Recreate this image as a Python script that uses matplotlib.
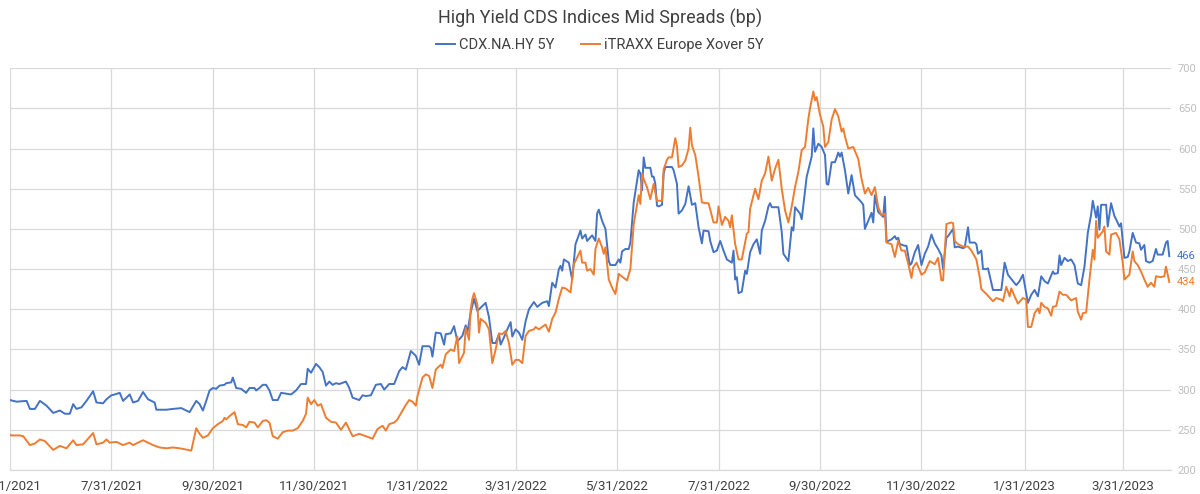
import matplotlib
matplotlib.use("Agg")
import matplotlib.pyplot as plt
import pandas as pd
from matplotlib.ticker import FuncFormatter, FixedLocator
import matplotlib.dates as mdates

# CDX.NA.HY 5Y mid spread (bp)
cdx_dates = [
    "2021-05-31", "2021-06-04", "2021-06-10", "2021-06-12", "2021-06-15", "2021-06-18", "2021-06-22", "2021-06-26",
    "2021-06-30", "2021-07-03", "2021-07-06", "2021-07-08", "2021-07-10", "2021-07-13", "2021-07-16", "2021-07-20",
    "2021-07-22", "2021-07-26", "2021-07-28", "2021-07-31", "2021-08-02", "2021-08-05", "2021-08-07", "2021-08-11",
    "2021-08-13", "2021-08-16", "2021-08-19", "2021-08-22", "2021-08-26", "2021-08-27", "2021-09-02", "2021-09-06",
    "2021-09-11", "2021-09-16", "2021-09-20", "2021-09-22", "2021-09-24", "2021-09-26", "2021-09-28", "2021-09-30",
    "2021-10-02", "2021-10-04", "2021-10-07", "2021-10-08", "2021-10-11", "2021-10-12", "2021-10-14", "2021-10-17",
    "2021-10-20", "2021-10-22", "2021-10-25", "2021-10-26", "2021-10-28", "2021-10-30", "2021-11-01", "2021-11-03",
    "2021-11-05", "2021-11-08", "2021-11-10", "2021-11-13", "2021-11-16", "2021-11-19", "2021-11-22", "2021-11-25",
    "2021-11-26", "2021-11-28", "2021-12-01", "2021-12-03", "2021-12-05", "2021-12-07", "2021-12-09", "2021-12-11",
    "2021-12-13", "2021-12-15", "2021-12-19", "2021-12-21", "2021-12-23", "2021-12-27", "2021-12-29", "2021-12-31",
    "2022-01-03", "2022-01-06", "2022-01-09", "2022-01-11", "2022-01-14", "2022-01-17", "2022-01-20", "2022-01-22",
    "2022-01-24", "2022-01-27", "2022-01-30", "2022-02-01", "2022-02-03", "2022-02-07", "2022-02-08", "2022-02-09",
    "2022-02-11", "2022-02-14", "2022-02-16", "2022-02-17", "2022-02-20", "2022-02-22", "2022-02-24", "2022-02-27",
    "2022-03-01", "2022-03-02", "2022-03-04", "2022-03-06", "2022-03-08", "2022-03-10", "2022-03-13", "2022-03-15",
    "2022-03-17", "2022-03-19", "2022-03-21", "2022-03-22", "2022-03-24", "2022-03-26", "2022-03-28", "2022-03-29",
    "2022-03-31", "2022-04-02", "2022-04-04", "2022-04-06", "2022-04-08", "2022-04-11", "2022-04-13", "2022-04-16",
    "2022-04-19", "2022-04-20", "2022-04-22", "2022-04-24", "2022-04-26", "2022-04-27", "2022-04-28", "2022-04-29",
    "2022-05-02", "2022-05-04", "2022-05-06", "2022-05-09", "2022-05-10", "2022-05-12", "2022-05-13", "2022-05-16",
    "2022-05-18", "2022-05-19", "2022-05-20", "2022-05-22", "2022-05-24", "2022-05-26", "2022-05-27", "2022-05-30",
    "2022-06-01", "2022-06-02", "2022-06-03", "2022-06-05", "2022-06-07", "2022-06-08", "2022-06-10", "2022-06-12",
    "2022-06-13", "2022-06-14", "2022-06-15", "2022-06-16", "2022-06-17", "2022-06-20", "2022-06-21", "2022-06-22",
    "2022-06-23", "2022-06-24", "2022-06-25", "2022-06-27", "2022-06-28", "2022-06-29", "2022-07-03", "2022-07-04",
    "2022-07-06", "2022-07-07", "2022-07-09", "2022-07-11", "2022-07-13", "2022-07-15", "2022-07-17", "2022-07-19",
    "2022-07-21", "2022-07-22", "2022-07-25", "2022-07-26", "2022-07-28", "2022-07-30", "2022-08-01", "2022-08-03",
    "2022-08-05", "2022-08-08", "2022-08-09", "2022-08-10", "2022-08-11", "2022-08-12", "2022-08-14", "2022-08-16",
    "2022-08-17", "2022-08-19", "2022-08-21", "2022-08-23", "2022-08-25", "2022-08-26", "2022-08-28", "2022-08-30",
    "2022-08-31", "2022-09-01", "2022-09-05", "2022-09-07", "2022-09-08", "2022-09-11", "2022-09-13", "2022-09-14",
    "2022-09-15", "2022-09-18", "2022-09-19", "2022-09-22", "2022-09-25", "2022-09-26", "2022-09-27", "2022-09-29",
    "2022-10-01", "2022-10-03", "2022-10-04", "2022-10-05", "2022-10-07", "2022-10-09", "2022-10-11", "2022-10-12",
    "2022-10-13", "2022-10-15", "2022-10-17", "2022-10-19", "2022-10-21", "2022-10-25", "2022-10-26", "2022-10-27",
    "2022-10-29", "2022-10-31", "2022-11-01", "2022-11-02", "2022-11-04", "2022-11-07", "2022-11-08", "2022-11-09",
    "2022-11-12", "2022-11-14", "2022-11-15", "2022-11-16", "2022-11-17", "2022-11-20", "2022-11-21", "2022-11-23",
    "2022-11-24", "2022-11-26", "2022-11-28", "2022-11-30", "2022-12-02", "2022-12-04", "2022-12-06", "2022-12-08",
    "2022-12-10", "2022-12-12", "2022-12-13", "2022-12-15", "2022-12-16", "2022-12-19", "2022-12-20", "2022-12-22",
    "2022-12-25", "2022-12-26", "2022-12-28", "2022-12-29", "2023-01-01", "2023-01-02", "2023-01-03", "2023-01-05",
    "2023-01-06", "2023-01-08", "2023-01-09", "2023-01-12", "2023-01-17", "2023-01-19", "2023-01-21", "2023-01-24",
    "2023-01-26", "2023-01-28", "2023-01-30", "2023-02-01", "2023-02-02", "2023-02-04", "2023-02-06", "2023-02-08",
    "2023-02-10", "2023-02-12", "2023-02-14", "2023-02-17", "2023-02-18", "2023-02-20", "2023-02-21", "2023-02-22",
    "2023-02-24", "2023-02-26", "2023-02-28", "2023-03-02", "2023-03-04", "2023-03-06", "2023-03-08", "2023-03-10",
    "2023-03-12", "2023-03-13", "2023-03-15", "2023-03-16", "2023-03-17", "2023-03-18", "2023-03-21", "2023-03-22",
    "2023-03-24", "2023-03-26", "2023-03-27", "2023-03-29", "2023-03-30", "2023-04-01", "2023-04-03", "2023-04-04",
    "2023-04-06", "2023-04-08", "2023-04-10", "2023-04-11", "2023-04-13", "2023-04-14", "2023-04-16", "2023-04-18",
    "2023-04-20", "2023-04-21", "2023-04-24", "2023-04-26", "2023-04-27", "2023-04-28",
]
cdx_vals = [
    287, 285, 286, 276, 276, 286, 280, 271,
    274, 270, 270, 282, 276, 278, 286, 298,
    284, 283, 288, 293, 294, 296, 286, 294,
    284, 286, 297, 288, 284, 275, 275, 276,
    277, 272, 286, 282, 274, 286, 299, 302,
    301, 305, 306, 308, 309, 315, 302, 301,
    296, 302, 302, 299, 302, 306, 306, 299,
    287, 287, 296, 295, 294, 299, 307, 307,
    326, 321, 332, 328, 322, 305, 310, 306,
    308, 307, 310, 302, 290, 287, 293, 292,
    293, 306, 307, 300, 307, 307, 323, 328,
    325, 348, 342, 331, 354, 354, 352, 341,
    371, 370, 356, 369, 370, 379, 360, 367,
    380, 371, 396, 413, 398, 402, 408, 390,
    358, 358, 369, 356, 365, 375, 384, 366,
    375, 371, 362, 385, 400, 409, 403, 408,
    410, 404, 433, 427, 450, 454, 448, 462,
    458, 437, 481, 498, 488, 493, 485, 492,
    485, 519, 524, 510, 500, 460, 455, 455,
    462, 458, 472, 475, 475, 483, 533, 560,
    573, 569, 548, 589, 576, 576, 565, 565,
    556, 529, 528, 530, 569, 577, 577, 573,
    556, 519, 523, 531, 553, 530, 532, 502,
    482, 498, 497, 485, 471, 473, 485, 473,
    462, 458, 473, 437, 440, 420, 422, 448,
    444, 471, 481, 487, 469, 498, 510, 528,
    532, 527, 527, 496, 469, 460, 502, 498,
    527, 519, 512, 565, 590, 625, 596, 606,
    602, 592, 556, 555, 583, 583, 595, 590,
    595, 573, 544, 567, 542, 533, 530, 500,
    510, 520, 508, 542, 521, 515, 540, 484,
    487, 491, 487, 489, 481, 479, 479, 455,
    457, 471, 480, 455, 469, 478, 493, 482,
    475, 467, 450, 489, 491, 500, 477, 478,
    476, 477, 502, 483, 483, 481, 469, 473,
    450, 450, 451, 424, 424, 458, 443, 435,
    430, 435, 443, 420, 408, 418, 424, 416,
    441, 435, 432, 447, 444, 445, 467, 455,
    464, 460, 462, 455, 432, 430, 453, 495,
    518, 535, 514, 528, 499, 530, 530, 503,
    532, 516, 512, 503, 507, 464, 465, 472,
    495, 483, 482, 474, 480, 460, 458, 460,
    475, 468, 468, 483, 485, 466,
]

# iTRAXX Europe Xover 5Y mid spread (bp)
xover_dates = [
    "2021-05-31", "2021-06-01", "2021-06-06", "2021-06-08", "2021-06-12", "2021-06-15", "2021-06-18", "2021-06-21",
    "2021-06-26", "2021-06-30", "2021-07-04", "2021-07-06", "2021-07-08", "2021-07-10", "2021-07-14", "2021-07-20",
    "2021-07-22", "2021-07-26", "2021-07-28", "2021-07-30", "2021-08-03", "2021-08-07", "2021-08-11", "2021-08-13",
    "2021-08-19", "2021-08-25", "2021-08-29", "2021-09-02", "2021-09-06", "2021-09-10", "2021-09-15", "2021-09-17",
    "2021-09-20", "2021-09-22", "2021-09-24", "2021-09-27", "2021-09-30", "2021-10-03", "2021-10-06", "2021-10-07",
    "2021-10-08", "2021-10-10", "2021-10-13", "2021-10-15", "2021-10-18", "2021-10-20", "2021-10-22", "2021-10-25",
    "2021-10-27", "2021-10-30", "2021-11-01", "2021-11-03", "2021-11-05", "2021-11-08", "2021-11-11", "2021-11-14",
    "2021-11-17", "2021-11-20", "2021-11-23", "2021-11-25", "2021-11-26", "2021-11-28", "2021-11-30", "2021-12-02",
    "2021-12-04", "2021-12-07", "2021-12-10", "2021-12-13", "2021-12-16", "2021-12-19", "2021-12-23", "2021-12-27",
    "2021-12-31", "2022-01-04", "2022-01-07", "2022-01-10", "2022-01-12", "2022-01-14", "2022-01-17", "2022-01-19",
    "2022-01-22", "2022-01-24", "2022-01-26", "2022-01-28", "2022-01-30", "2022-01-31", "2022-02-03", "2022-02-05",
    "2022-02-07", "2022-02-09", "2022-02-11", "2022-02-14", "2022-02-15", "2022-02-17", "2022-02-20", "2022-02-22",
    "2022-02-24", "2022-02-25", "2022-02-28", "2022-03-01", "2022-03-03", "2022-03-04", "2022-03-05", "2022-03-06",
    "2022-03-08", "2022-03-09", "2022-03-10", "2022-03-13", "2022-03-15", "2022-03-17", "2022-03-19", "2022-03-21",
    "2022-03-23", "2022-03-25", "2022-03-27", "2022-03-29", "2022-03-31", "2022-04-02", "2022-04-04", "2022-04-06",
    "2022-04-08", "2022-04-11", "2022-04-12", "2022-04-14", "2022-04-18", "2022-04-20", "2022-04-22", "2022-04-24",
    "2022-04-26", "2022-04-28", "2022-04-30", "2022-05-03", "2022-05-05", "2022-05-09", "2022-05-10", "2022-05-12",
    "2022-05-13", "2022-05-15", "2022-05-17", "2022-05-18", "2022-05-20", "2022-05-22", "2022-05-23", "2022-05-24",
    "2022-05-26", "2022-05-28", "2022-05-30", "2022-06-01", "2022-06-04", "2022-06-06", "2022-06-08", "2022-06-10",
    "2022-06-13", "2022-06-14", "2022-06-15", "2022-06-16", "2022-06-18", "2022-06-20", "2022-06-22", "2022-06-24",
    "2022-06-27", "2022-06-28", "2022-06-30", "2022-07-01", "2022-07-03", "2022-07-05", "2022-07-06", "2022-07-07",
    "2022-07-09", "2022-07-11", "2022-07-13", "2022-07-14", "2022-07-15", "2022-07-17", "2022-07-19", "2022-07-21",
    "2022-07-23", "2022-07-25", "2022-07-28", "2022-07-30", "2022-07-31", "2022-08-02", "2022-08-04", "2022-08-06",
    "2022-08-07", "2022-08-08", "2022-08-10", "2022-08-12", "2022-08-14", "2022-08-17", "2022-08-18", "2022-08-19",
    "2022-08-22", "2022-08-24", "2022-08-26", "2022-08-28", "2022-08-30", "2022-09-01", "2022-09-03", "2022-09-05",
    "2022-09-07", "2022-09-09", "2022-09-11", "2022-09-13", "2022-09-15", "2022-09-17", "2022-09-19", "2022-09-21",
    "2022-09-23", "2022-09-24", "2022-09-26", "2022-09-27", "2022-09-28", "2022-09-30", "2022-10-02", "2022-10-03",
    "2022-10-05", "2022-10-07", "2022-10-09", "2022-10-11", "2022-10-13", "2022-10-14", "2022-10-15", "2022-10-17",
    "2022-10-20", "2022-10-23", "2022-10-25", "2022-10-27", "2022-10-29", "2022-10-31", "2022-11-02", "2022-11-04",
    "2022-11-06", "2022-11-08", "2022-11-09", "2022-11-12", "2022-11-14", "2022-11-16", "2022-11-18", "2022-11-20",
    "2022-11-22", "2022-11-24", "2022-11-25", "2022-11-27", "2022-11-30", "2022-12-02", "2022-12-05", "2022-12-08",
    "2022-12-10", "2022-12-12", "2022-12-13", "2022-12-15", "2022-12-18", "2022-12-19", "2022-12-20", "2022-12-22",
    "2022-12-25", "2022-12-28", "2022-12-30", "2023-01-02", "2023-01-04", "2023-01-05", "2023-01-08", "2023-01-12",
    "2023-01-14", "2023-01-17", "2023-01-18", "2023-01-20", "2023-01-22", "2023-01-23", "2023-01-25", "2023-01-27",
    "2023-01-30", "2023-02-01", "2023-02-02", "2023-02-04", "2023-02-06", "2023-02-08", "2023-02-09", "2023-02-10",
    "2023-02-12", "2023-02-14", "2023-02-16", "2023-02-17", "2023-02-19", "2023-02-21", "2023-02-23", "2023-02-25",
    "2023-02-28", "2023-03-03", "2023-03-04", "2023-03-06", "2023-03-07", "2023-03-09", "2023-03-11", "2023-03-13",
    "2023-03-14", "2023-03-15", "2023-03-16", "2023-03-19", "2023-03-20", "2023-03-21", "2023-03-23", "2023-03-24",
    "2023-03-27", "2023-03-29", "2023-03-31", "2023-04-01", "2023-04-04", "2023-04-06", "2023-04-07", "2023-04-09",
    "2023-04-11", "2023-04-13", "2023-04-15", "2023-04-17", "2023-04-19", "2023-04-20", "2023-04-23", "2023-04-25",
    "2023-04-26", "2023-04-28",
]
xover_vals = [
    244, 243, 243, 242, 231, 233, 238, 236,
    225, 230, 227, 232, 237, 231, 232, 246,
    232, 234, 238, 234, 235, 231, 234, 231,
    237, 231, 228, 227, 228, 227, 225, 224,
    252, 245, 240, 243, 252, 257, 261, 265,
    263, 267, 272, 257, 256, 253, 260, 259,
    253, 261, 262, 259, 242, 239, 247, 249,
    249, 252, 261, 270, 290, 282, 287, 280,
    282, 265, 260, 259, 250, 259, 242, 245,
    242, 239, 251, 255, 249, 257, 259, 263,
    274, 281, 287, 285, 280, 292, 315, 319,
    317, 302, 325, 331, 327, 344, 350, 348,
    366, 333, 346, 377, 362, 400, 413, 420,
    406, 371, 388, 383, 375, 333, 350, 370,
    369, 373, 358, 331, 337, 337, 333, 367,
    373, 375, 378, 375, 381, 372, 388, 396,
    413, 427, 426, 421, 456, 473, 458, 458,
    448, 450, 443, 475, 488, 477, 469, 477,
    437, 427, 419, 444, 439, 436, 450, 506,
    542, 531, 569, 562, 552, 537, 556, 535,
    535, 574, 586, 589, 589, 613, 603, 577,
    579, 585, 600, 626, 604, 592, 565, 533,
    532, 532, 508, 508, 528, 505, 515, 510,
    502, 517, 481, 462, 462, 494, 496, 525,
    550, 537, 560, 569, 590, 560, 575, 586,
    550, 523, 508, 528, 552, 571, 598, 602,
    637, 650, 671, 660, 664, 642, 627, 602,
    608, 636, 649, 640, 621, 625, 615, 600,
    602, 587, 562, 544, 551, 542, 552, 527,
    517, 519, 483, 481, 465, 485, 473, 473,
    457, 439, 452, 458, 443, 446, 460, 456,
    464, 436, 436, 506, 508, 507, 485, 481,
    478, 478, 473, 462, 440, 425, 419, 410,
    414, 412, 410, 428, 416, 426, 416, 407,
    414, 412, 378, 378, 395, 401, 395, 408,
    403, 401, 392, 403, 404, 422, 418, 418,
    411, 414, 397, 387, 395, 396, 437, 474,
    462, 510, 489, 497, 503, 472, 468, 493,
    495, 487, 458, 437, 443, 472, 460, 455,
    447, 437, 428, 433, 428, 441, 440, 441,
    453, 434,
]

tick_dates = ["2021-05-31", "2021-07-31", "2021-09-30", "2021-11-30", "2022-01-31", "2022-03-31",
              "2022-05-31", "2022-07-31", "2022-09-30", "2022-11-30", "2023-01-31", "2023-03-31"]
y_ticks = [200, 250, 300, 350, 400, 450, 500, 550, 600, 650, 700]

BLUE = "#4472C4"
ORANGE = "#ED7D31"
GRID = "#d9d9d9"

plt.rcParams['font.family'] = ['Roboto', 'DejaVu Sans']

fig = plt.figure(figsize=(12, 4.94), dpi=100)
ax = fig.add_axes([0.0083, 0.0486, 0.9675, 0.8134])

ax.plot(pd.to_datetime(cdx_dates), cdx_vals, color=BLUE, lw=1.4, label="CDX.NA.HY 5Y")
ax.plot(pd.to_datetime(xover_dates), xover_vals, color=ORANGE, lw=1.4, label="iTRAXX Europe Xover 5Y")

ax.set_xlim(pd.Timestamp("2021-05-31"), pd.Timestamp("2023-04-29"))
ax.set_ylim(200, 700)

ticks = pd.to_datetime(tick_dates)
ax.xaxis.set_major_locator(FixedLocator(mdates.date2num(ticks)))
ax.xaxis.set_major_formatter(FuncFormatter(
    lambda x, pos: "{d.month}/{d.day}/{d.year}".format(d=mdates.num2date(x))))
ax.set_yticks(y_ticks)

ax.yaxis.tick_right()
ax.tick_params(axis='y', length=0, pad=5, labelsize=8, labelcolor="#bfbfbf")
ax.tick_params(axis='x', length=0, pad=7, labelsize=9.5, labelcolor="#404040")

ax.grid(True, color=GRID, lw=0.9)
ax.set_axisbelow(True)
for s in ["top", "right", "left"]:
    ax.spines[s].set_visible(False)
ax.spines["bottom"].set_color(GRID)
ax.spines["bottom"].set_linewidth(0.9)

# last-value labels on the right
tr = ax.get_yaxis_transform()
ax.annotate(str(cdx_vals[-1]), xy=(1, cdx_vals[-1]), xycoords=tr, xytext=(4, 0),
            textcoords="offset points", va="center", ha="left", fontsize=8, color=BLUE)
ax.annotate(str(xover_vals[-1]), xy=(1, xover_vals[-1]), xycoords=tr, xytext=(4, 0),
            textcoords="offset points", va="center", ha="left", fontsize=8, color=ORANGE)

fig.text(0.5, 1 - 18 / 494, "High Yield CDS Indices Mid Spreads (bp)", ha="center", va="center",
         fontsize=13, color="#404040")
fig.legend(loc="center", bbox_to_anchor=(0.5, 1 - 45 / 494), ncol=2, frameon=False,
           fontsize=10.5, handlelength=1.3, handletextpad=0.3, columnspacing=1.8,
           labelcolor="#404040")

fig.savefig("out.png", dpi=100)
